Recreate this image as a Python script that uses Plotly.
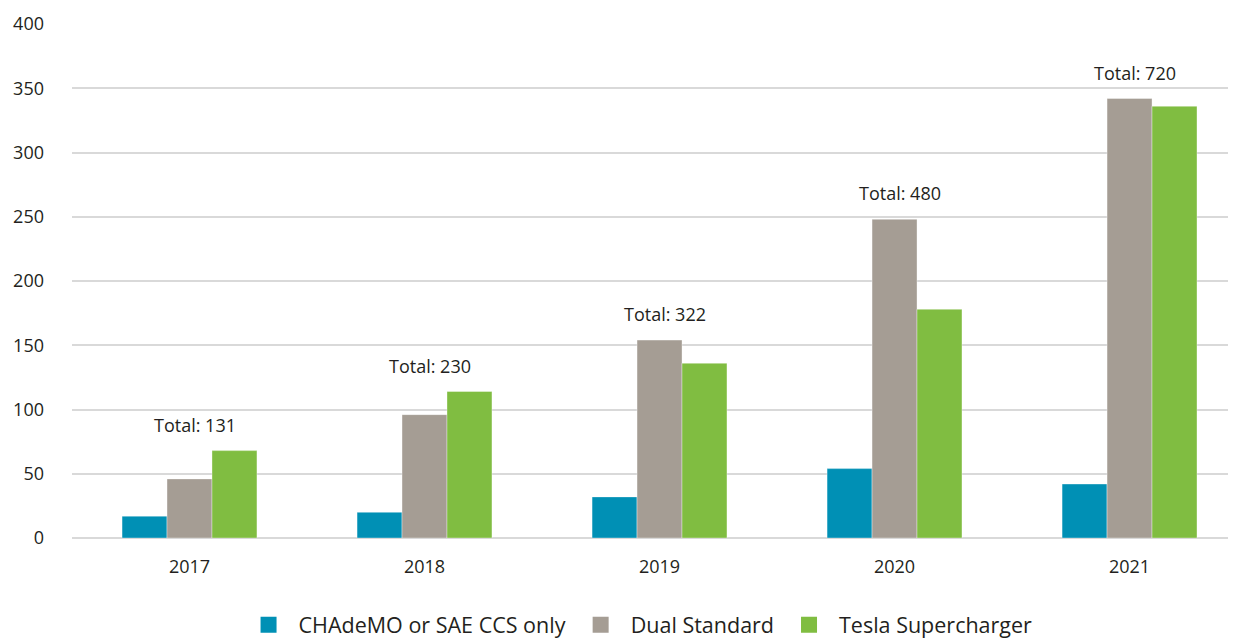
import plotly.graph_objects as go

years = ["2017", "2018", "2019", "2020", "2021"]
chademo = [17, 20, 32, 54, 42]
dual = [46, 96, 154, 248, 342]
tesla = [68, 114, 136, 178, 336]
totals = [131, 230, 322, 480, 720]
series_names = ["CHAdeMO or SAE CCS only", "Dual Standard", "Tesla Supercharger"]
colors = ["#0090b5", "#a59d94", "#80bd41"]

FONT = "Open Sans"
TXT = "#231f20"

fig = go.Figure()
for name, vals, col in zip(series_names, [chademo, dual, tesla], colors):
    fig.add_trace(go.Bar(
        x=years, y=vals, name=name, legendgroup=name, showlegend=False,
        marker=dict(color=col, line=dict(color="rgba(255,255,255,0.6)", width=0.6)),
    ))
# legend proxies with larger square swatches
for name, col in zip(series_names, colors):
    fig.add_trace(go.Scatter(
        x=[None], y=[None], mode="markers", name=name, legendgroup=name,
        marker=dict(symbol="square", size=26, color=col),
    ))

for i, (a, b, c, t) in enumerate(zip(chademo, dual, tesla, totals)):
    fig.add_annotation(
        x=i, xref="x", y=max(a, b, c), yref="y", text=f"Total: {t}", showarrow=False,
        yanchor="bottom", yshift=12, xshift=5,
        font=dict(family=FONT, size=18, color=TXT),
    )

fig.update_layout(
    width=1228, height=630,
    margin=dict(l=64, r=0, t=16, b=100, autoexpand=False),
    paper_bgcolor="white", plot_bgcolor="white",
    barmode="group", bargap=0.426, bargroupgap=0,
    font=dict(family=FONT, size=18, color=TXT),
    legend=dict(
        orientation="h", x=0.4863, xanchor="center", y=-0.169, yanchor="middle",
        font=dict(family=FONT, size=21.5, color=TXT),
        itemwidth=50, traceorder="normal",
    ),
    xaxis=dict(
        type="category", range=[-0.5, 4.453], showgrid=False, showline=False,
        ticks="", ticklabelstandoff=16, automargin=False,
        tickfont=dict(family=FONT, size=18, color=TXT),
    ),
    yaxis=dict(
        range=[0, 400], dtick=50, showgrid=True, gridcolor="#d9d9d9", gridwidth=1.5,
        zeroline=True, zerolinecolor="#d9d9d9", zerolinewidth=1.5,
        showline=False, ticks="", ticklabelstandoff=27, automargin=False,
        tickfont=dict(family=FONT, size=18, color=TXT),
    ),
)

fig.write_html("out.html")
